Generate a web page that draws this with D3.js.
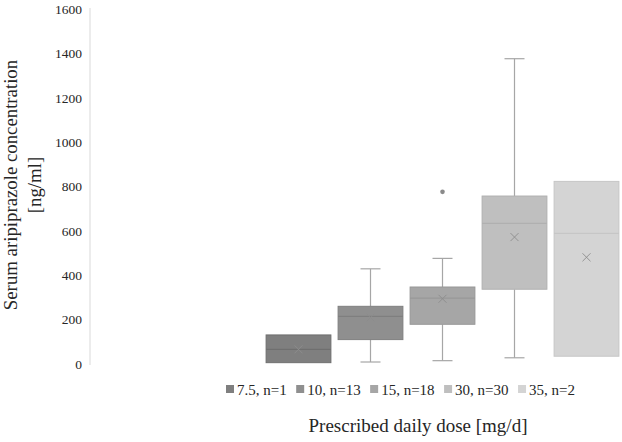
<!DOCTYPE html>
<html><head><meta charset="utf-8">
<script src="https://cdn.jsdelivr.net/npm/d3@7"></script>
<style>body{margin:0;background:#fff}svg{display:block}</style>
</head><body>
<script>
const series = ["7.5, n=1","10, n=13","15, n=18","30, n=30","35, n=2"];
const whiskerLow = [null, 9, 15, 28, null];
const q1 = [6, 110, 179, 337, 35];
const median = [66, 215, 297, 634, 589];
const q3 = [131, 260, 347, 757, 823];
const whiskerHigh = [null, 429, 476, 1376, null];
const means = [66, 209, 294, 572, 481];
const outliers = [[], [], [776], [], []];
const fills = ["#7f7f7f","#8f8f8f","#a6a6a6","#bfbfbf","#d4d4d4"];
const strokes = ["#6f6f6f","#7f7f7f","#979797","#b0b0b0","#c6c6c6"];
const yTicks = [0,200,400,600,800,1000,1200,1400,1600];

const W=622,H=442;
const svg=d3.select("body").append("svg").attr("width",W).attr("height",H);
const y=d3.scaleLinear().domain([0,1600]).range([364,9]);
const x=d3.scaleBand().domain(series).range([262.5,622.5]).paddingInner(0.1).paddingOuter(0.05);
const font="'Liberation Serif','Times New Roman',serif";
const txt="#262626";

// y axis
const ya=svg.append("g").attr("transform","translate(90,0)")
  .call(d3.axisLeft(y).tickValues(yTicks).tickSize(0).tickPadding(8).tickFormat(d3.format("d")));
ya.select(".domain").attr("stroke","#d9d9d9").attr("d","M0,"+(y(1600)-1)+"V"+(y(0)+1));
ya.selectAll("text").attr("font-family",font).attr("font-size",13.5).attr("fill",txt);

const data=series.map((s,i)=>({s,i}));
const g=svg.append("g");
data.forEach(({s,i})=>{
  const cx=x(s)+x.bandwidth()/2, bw=x.bandwidth();
  const col="#a6a6a6";
  if(whiskerHigh[i]!=null){
    g.append("line").attr("x1",cx).attr("x2",cx).attr("y1",y(q3[i])).attr("y2",y(whiskerHigh[i])).attr("stroke",col).attr("stroke-width",1.2);
    g.append("line").attr("x1",cx-10).attr("x2",cx+10).attr("y1",y(whiskerHigh[i])).attr("y2",y(whiskerHigh[i])).attr("stroke",col).attr("stroke-width",1.2);
  }
  if(whiskerLow[i]!=null){
    g.append("line").attr("x1",cx).attr("x2",cx).attr("y1",y(q1[i])).attr("y2",y(whiskerLow[i])).attr("stroke",col).attr("stroke-width",1.2);
    g.append("line").attr("x1",cx-10).attr("x2",cx+10).attr("y1",y(whiskerLow[i])).attr("y2",y(whiskerLow[i])).attr("stroke",col).attr("stroke-width",1.2);
  }
  g.append("rect").attr("x",x(s)).attr("width",bw).attr("y",y(q3[i])).attr("height",y(q1[i])-y(q3[i]))
    .attr("fill",fills[i]).attr("stroke",strokes[i]).attr("stroke-width",1);
  g.append("line").attr("x1",x(s)).attr("x2",x(s)+bw).attr("y1",y(median[i])).attr("y2",y(median[i])).attr("stroke",strokes[i]).attr("stroke-width",1.2);
  const my=y(means[i]), r=4;
  g.append("path").attr("d",`M${cx-r},${my-r}L${cx+r},${my+r}M${cx-r},${my+r}L${cx+r},${my-r}`).attr("stroke","#8c8c8c").attr("stroke-width",0.9).attr("fill","none");
  outliers[i].forEach(v=>{
    g.append("circle").attr("cx",cx).attr("cy",y(v)).attr("r",2.3).attr("fill","#8a8a8a");
  });
});

// legend laid out sequentially
const lg=svg.append("g");
const items=series.map((s,i)=>{
  const it=lg.append("g");
  it.append("rect").attr("x",0).attr("y",385).attr("width",8).attr("height",8).attr("fill",fills[i]);
  const t=it.append("text").attr("x",11).attr("y",394.5).text(s).attr("font-family",font).attr("font-size",15).attr("fill",txt);
  return {it,w:11+t.node().getComputedTextLength()};
});
const lStart=226,lEnd=575;
const total=d3.sum(items,d=>d.w);
const gap=(lEnd-lStart-total)/(items.length-1);
let cur=lStart;
items.forEach(d=>{d.it.attr("transform",`translate(${cur},0)`);cur+=d.w+gap;});

// axis titles
svg.append("text").attr("x",418).attr("y",432).attr("text-anchor","middle").attr("font-family",font).attr("font-size",19).attr("fill",txt).text("Prescribed daily dose [mg/d]");
const yt=svg.append("text").attr("transform","translate(17,185) rotate(-90)").attr("text-anchor","middle").attr("font-family",font).attr("font-size",18.8).attr("fill",txt);
yt.append("tspan").attr("x",0).attr("dy",0).text("Serum aripiprazole concentration");
yt.append("tspan").attr("x",0).attr("dy",24).text("[ng/ml]");
</script>
</body></html>
